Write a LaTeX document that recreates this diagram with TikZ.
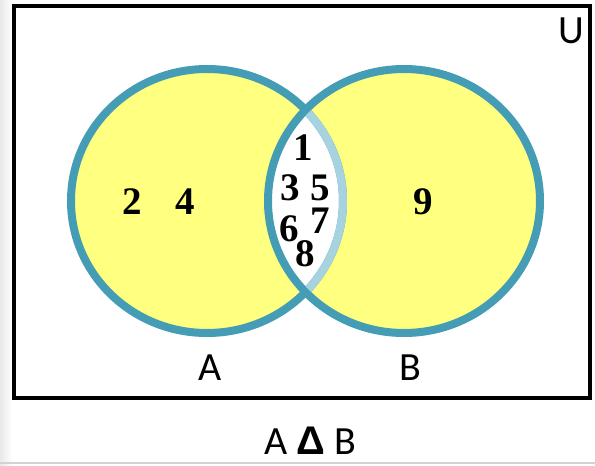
\documentclass[tikz,border=0pt]{standalone}
\usepackage{fontspec}
\setmainfont{Carlito}
\newfontfamily\numfont{Liberation Serif}
\newfontfamily\symfont{Liberation Sans}
\usepackage{tikz}
\usetikzlibrary{positioning}
\usepackage{xcolor}
\definecolor{vyellow}{HTML}{FFFF80}
\definecolor{vteal}{HTML}{449DB4}
\definecolor{vlight}{HTML}{A6D3DF}

\begin{document}
\begin{tikzpicture}[x=1pt, y=-1pt,
  ring/.style={line width=8pt, vteal},
  num/.style={font=\numfont\fontsize{39}{44}\selectfont\bfseries, inner sep=0pt},
  lbl/.style={font=\fontsize{40}{40}\selectfont, inner sep=0pt}]
\useasboundingbox (0,0) rectangle (595,466);
% ---------- page edges ----------
\fill[left color=gray!18, right color=white] (0,0) rectangle (12,466);
\draw[gray!35, line width=2pt] (0,463) -- (595,463);
% ---------- universe ----------
\draw[line width=4.5pt] (14,6) rectangle (590,398);
\coordinate (cA) at (207,201);
\coordinate (cB) at (404,201);
% ---------- fills ----------
\fill[vyellow] (cA) ellipse [x radius=136pt, y radius=132pt];
\fill[vyellow] (cB) ellipse [x radius=136pt, y radius=132pt];
\begin{scope}
  \clip (cA) ellipse [x radius=136pt, y radius=132pt];
  \fill[white] (cB) ellipse [x radius=136pt, y radius=132pt];
\end{scope}
% ---------- outlines ----------
\draw[ring] (cA) ellipse [x radius=136pt, y radius=132pt];
\draw[ring] (cB) ellipse [x radius=136pt, y radius=132pt];
\begin{scope}
  \clip (cB) ellipse [x radius=132pt, y radius=128pt];
  \draw[ring, vlight] (cA) ellipse [x radius=136pt, y radius=132pt];
\end{scope}
% ---------- elements ----------
\node[num] (n2) at (132,202) {2};
\node[num] (n4) at (185,202) {4};
\node[num] (n9) at (423,202) {9};
\node[num] (n1) at (303,148) {1};
\node[num] (n3) at (290,188) {3};
\node[num] (n5) at (320,188) {5};
\node[num] (n6) at (289,229) {6};
\node[num] (n7) at (320,221) {7};
\node[num] (n8) at (305,254) {8};
% ---------- labels ----------
\node[lbl] (setU) at (571,31) {U};
\node[lbl] (setA) at (210,368) {A};
\node[lbl] (setB) at (410,368) {B};
\node[lbl] (caption) at (310,441) {A {\symfont\bfseries Δ} B};
\end{tikzpicture}
\end{document}
